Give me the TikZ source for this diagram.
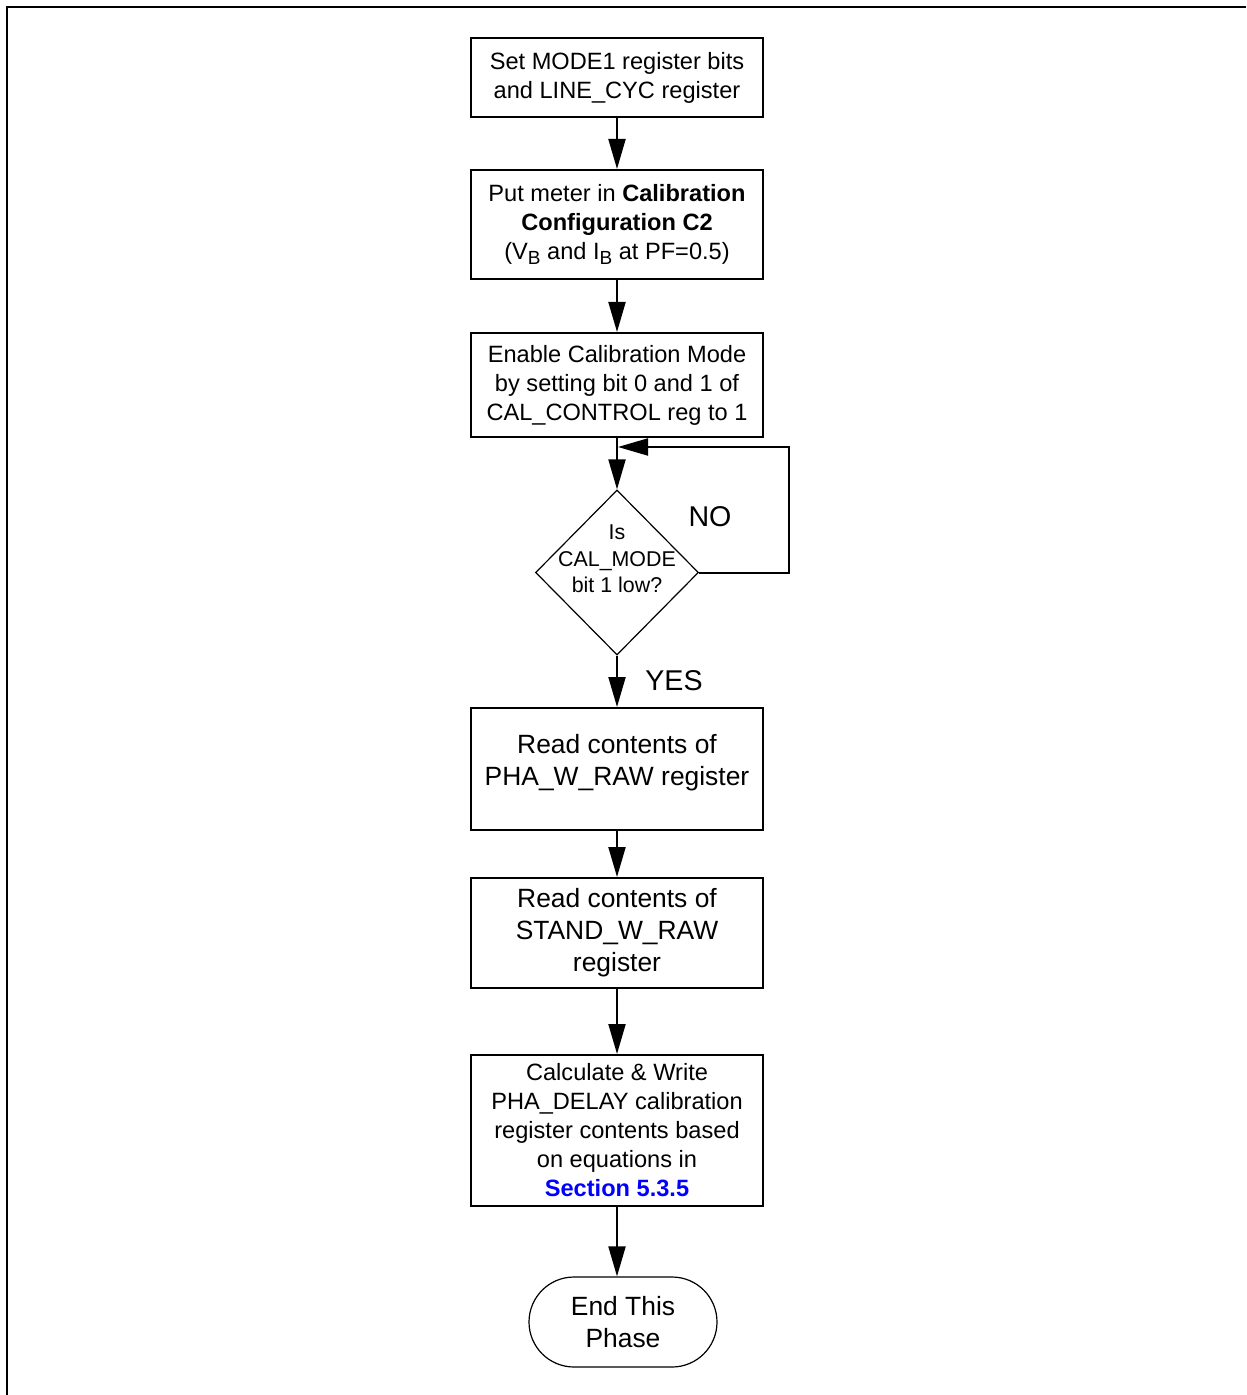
\documentclass[tikz,border=0pt]{standalone}
\usepackage{fontspec}
\setmainfont{Liberation Sans}
\usetikzlibrary{arrows.meta,shapes.geometric}
\definecolor{linkblue}{RGB}{0,0,255}
\newcommand{\subB}{\raisebox{-0.4ex}{\fontsize{9.5}{10}\selectfont B}}
\begin{document}
\begin{tikzpicture}[x=0.5pt,y=-0.5pt,
  box/.style={draw, line width=1pt, minimum width=146pt, inner sep=0pt, align=center,
    font=\fontsize{11.8}{14.5}\selectfont},
  bigbox/.style={box, font=\fontsize{13.2}{16}\selectfont},
  flow/.style={line width=1pt, -{Triangle[length=15pt,width=8.5pt]}},
  lbl/.style={font=\fontsize{14.3}{17}\selectfont, inner sep=0pt}
]
\useasboundingbox (0,0) rectangle (1246,1395);
% frame (top and left edges)
\draw[line width=1.3pt] (1246,7) -- (7,7) -- (7,1395);

\node[box, minimum height=39.5pt] (b1) at (617,77.5)
  {Set MODE1 register bits\\and LINE\_CYC register};
\node[box, minimum height=54.5pt] (b2) at (617,224.5)
  {Put meter in \textbf{Calibration}\\\textbf{Configuration C2}\\(V\subB{} and I\subB{} at PF=0.5)};
\node[box, minimum height=52pt] (b3) at (617,385)
  {Enable Calibration Mode\\by setting bit 0 and 1 of\\CAL\_CONTROL reg to 1};
\node[draw, diamond, line width=0.6pt, minimum width=81.5pt, minimum height=82.5pt, inner sep=0pt] (d) at (617,572.5) {};
\node[align=center, inner sep=0pt, font=\fontsize{10.7}{13.25}\selectfont] (dt) at (617,559) {Is\\CAL\_MODE\\bit 1 low?};
\node[box, minimum height=61pt] (b4) at (617,769) {};
\node[align=center, inner sep=0pt, font=\fontsize{13.2}{16}\selectfont] (b4t) at (617,763)
  {Read contents of\\PHA\_W\_RAW register};
\node[bigbox, minimum height=55pt] (b5) at (617,933)
  {Read contents of\\STAND\_W\_RAW\\register};
\node[box, minimum height=75.5pt] (b6) at (617,1130.5)
  {Calculate \& Write\\PHA\_DELAY calibration\\register contents based\\on equations in\\\textcolor{linkblue}{\textbf{Section 5.3.5}}};
\node[draw, line width=0.6pt, minimum width=94pt, minimum height=45pt, rounded corners=22.5pt,
  align=center, font=\fontsize{13.2}{16}\selectfont] (t) at (623,1322) {End This\\Phase};

\node[lbl] (no) at (710,517) {NO};
\node[lbl] (yes) at (674,681) {YES};

\coordinate (j) at (618,447);
\coordinate (c1) at (789,572.5);
\coordinate (c2) at (789,447);

\draw[flow] (b1) -- (b2);
\draw[flow] (b2) -- (b3);
\draw[flow] (b3) -- (d);
\draw[line width=1pt] (d.east) -- (c1) -- (c2) -- (c2 -| 650,0);
\draw[flow] (c2) -- (j);
\draw[flow] (d) -- (b4);
\draw[flow] (b4) -- (b5);
\draw[flow] (b5) -- (b6);
\draw[flow] (b6.south) -- (b6.south |- t.north);
\end{tikzpicture}
\end{document}
